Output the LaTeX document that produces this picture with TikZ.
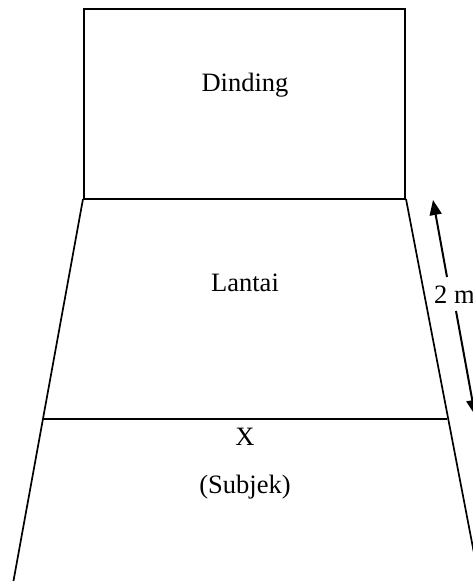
\documentclass[tikz,border=0pt]{standalone}
\usepackage{fontspec}
\setmainfont{Liberation Serif}
\usetikzlibrary{arrows.meta}
\begin{document}
\begin{tikzpicture}[x=1pt,y=-1pt,
  wall/.style={line width=1.7pt},
  label/.style={font=\fontsize{26.5}{30}\selectfont, inner sep=0pt},
  dim/.style={line width=2pt, -{Stealth[length=15pt,width=12pt,inset=0pt]}}]
  \useasboundingbox (0,0) rectangle (473,581);
  \clip (0,0) rectangle (473,581);
  % wall seen from the front
  \draw[wall] (84,9) rectangle (405,199);
  % floor in perspective
  \coordinate (fl) at (83,199);
  \coordinate (fr) at (406,199);
  \coordinate (bl) at (10,600);
  \coordinate (br) at (483,600);
  \draw[wall] (fl) -- (fr);
  \draw[wall] (fl) -- (bl);
  \draw[wall] (fr) -- (br);
  % subject line
  \coordinate (sl) at (43,419);
  \coordinate (sr) at (447,419);
  \draw[wall] (sl) -- (sr);
  % labels
  \node[label] (dinding) at (245,85) {Dinding};
  \node[label] (lantai) at (245,283) {Lantai};
  \node[label] (x) at (245,437) {X};
  \node[label] (subjek) at (245,487) {(Subjek)};
  % distance marker
  \node[label, anchor=base west] (dist) at (434,303) {2 m};
  \coordinate (upS) at (447,277);
  \coordinate (upE) at (433,200);
  \coordinate (dnS) at (456,311);
  \coordinate (dnE) at (475,415);
  \draw[dim] (upS) -- (upE);
  \draw[dim] (dnS) -- (dnE);
\end{tikzpicture}
\end{document}
